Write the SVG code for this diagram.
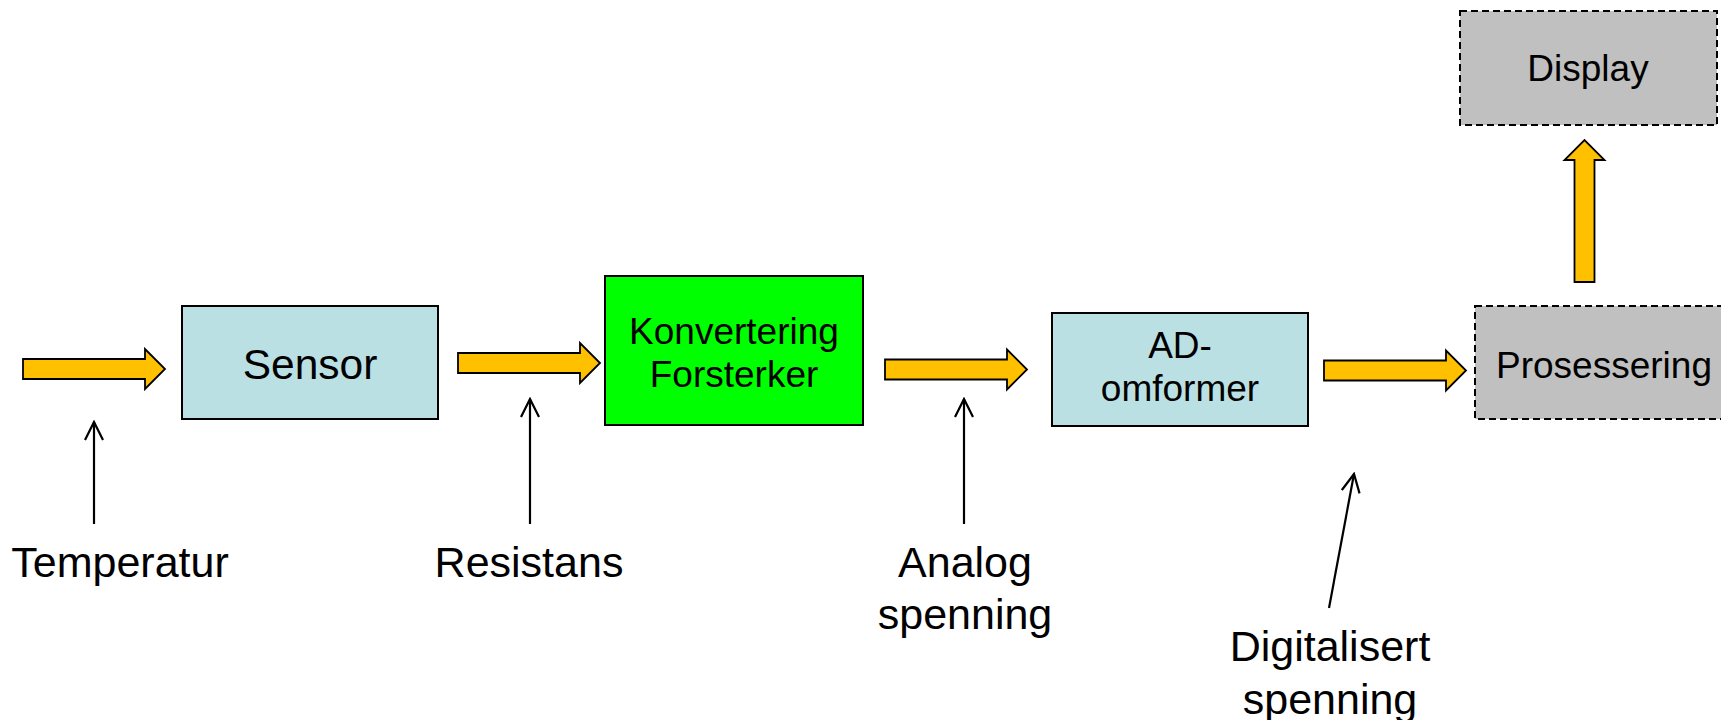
<svg xmlns="http://www.w3.org/2000/svg" xmlns:xlink="http://www.w3.org/1999/xlink" width="1721" height="720" viewBox="0 0 1721 720">
<style>
  text { font-family: "Liberation Sans", Arial, sans-serif; fill: #000; }
  .box { stroke: #000; stroke-width: 2; }
  .blue { fill: #BBE0E3; }
  .green { fill: #00FF00; }
  .gray { fill: #C0C0C0; stroke-dasharray: 7 4; }
  .fat { fill: #FFC000; stroke: #000; stroke-width: 1.8; stroke-linejoin: miter; }
  .thin { fill: none; stroke: #000; stroke-width: 2.2; marker-end: url(#open); }
  .bl { font-size: 37px; text-anchor: middle; }
  .lbl { font-size: 43px; text-anchor: middle; }
</style>
<defs>
  <path id="fatArrow" d="M0,-10 H122 V-20 L142,0 L122,20 V10 H0 Z"/>
  <marker id="open" viewBox="-20 -10 22 20" refX="0" refY="0" markerWidth="22" markerHeight="20" markerUnits="userSpaceOnUse" orient="auto">
    <path d="M-18,-9 L0,0 L-18,9" fill="none" stroke="#000" stroke-width="2.2"/>
  </marker>
</defs>

<g id="sensor">
  <rect class="box blue" x="182" y="306" width="256" height="113"/>
  <text x="310" y="379" style="font-size:42.5px;text-anchor:middle">Sensor</text>
</g>
<g id="konvertering">
  <rect class="box green" x="605" y="276" width="258" height="149"/>
  <text class="bl" x="734" y="344">Konvertering</text>
  <text class="bl" x="734" y="387">Forsterker</text>
</g>
<g id="adomformer">
  <rect class="box blue" x="1052" y="313" width="256" height="113"/>
  <text class="bl" x="1180" y="358">AD-</text>
  <text class="bl" x="1180" y="401">omformer</text>
</g>
<g id="prosessering">
  <rect class="box gray" x="1475" y="306" width="262" height="113"/>
  <text class="bl" x="1604" y="378">Prosessering</text>
</g>
<g id="display">
  <rect class="box gray" x="1460" y="11" width="257" height="114"/>
  <text class="bl" x="1588" y="81">Display</text>
</g>

<g id="labels">
  <text class="lbl" x="120" y="577">Temperatur</text>
  <text class="lbl" x="529" y="577">Resistans</text>
  <text class="lbl" x="965" y="577">Analog</text>
  <text class="lbl" x="965" y="629">spenning</text>
  <text class="lbl" x="1330" y="661">Digitalisert</text>
  <text class="lbl" x="1330" y="714">spenning</text>
</g>

<g id="connectors">
  <use xlink:href="#fatArrow" class="fat" transform="translate(23,369)"/>
  <use xlink:href="#fatArrow" class="fat" transform="translate(458,363)"/>
  <use xlink:href="#fatArrow" class="fat" transform="translate(885,369.5)"/>
  <use xlink:href="#fatArrow" class="fat" transform="translate(1324,370.5)"/>
  <use xlink:href="#fatArrow" class="fat" transform="translate(1584.5,282) rotate(-90)"/>
  <line class="thin" x1="94" y1="524" x2="94" y2="422"/>
  <line class="thin" x1="530" y1="524" x2="530" y2="399"/>
  <line class="thin" x1="964" y1="524" x2="964" y2="399"/>
  <line class="thin" x1="1329" y1="608" x2="1354" y2="474"/>
</g>
</svg>
